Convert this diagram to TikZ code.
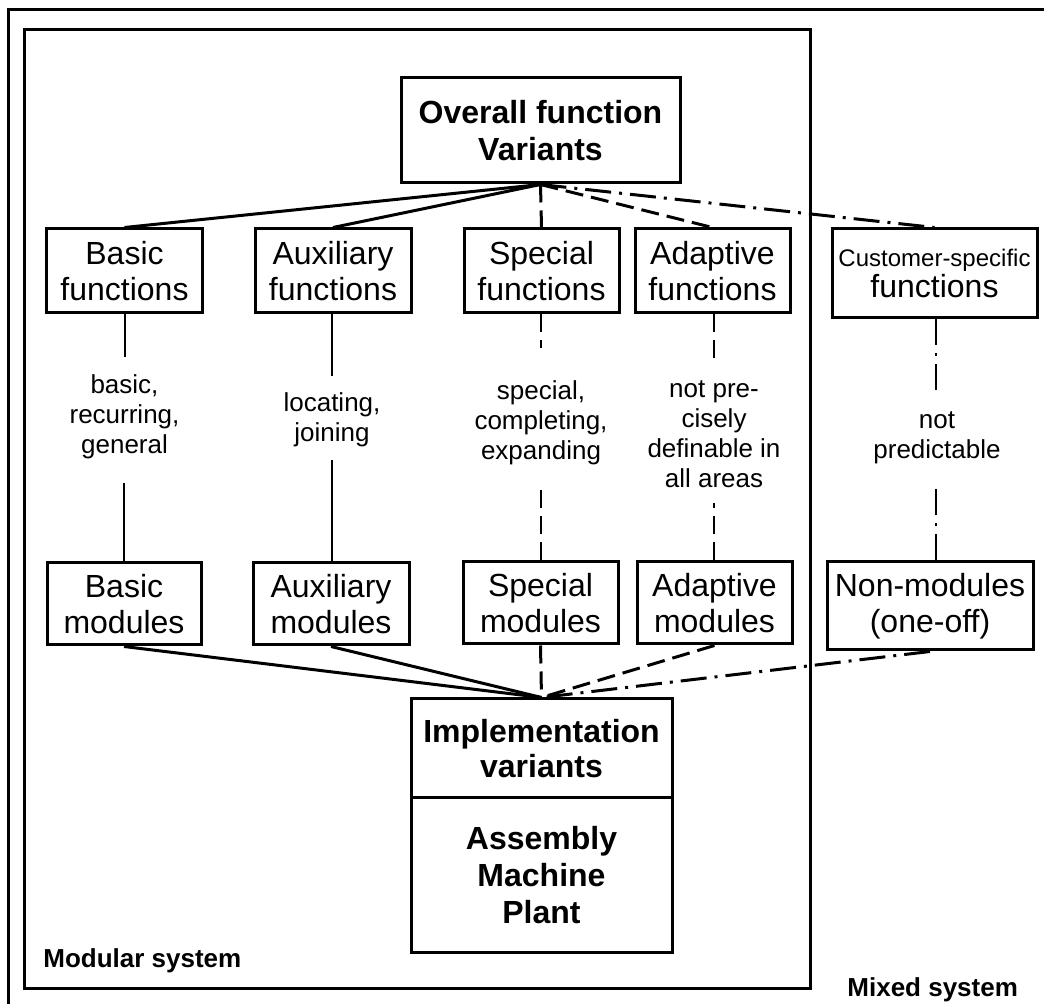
\documentclass[tikz,border=0pt]{standalone}
\usepackage{fontspec}
\setmainfont{Liberation Sans}
\begin{document}
\begin{tikzpicture}[x=0.5pt,y=-0.5pt,
  box/.style={draw,line width=1.5pt,inner sep=0pt,align=center,font=\fontsize{16}{18}\selectfont},
  bbox/.style={box,font=\fontsize{16}{18.5}\selectfont\bfseries},
  lab/.style={inner sep=0pt,align=center,font=\fontsize{13}{15}\selectfont},
  conn/.style={line width=1.5pt},
  vconn/.style={line width=1pt},
  dsh/.style={dash pattern=on 9pt off 4pt},
  dd/.style={dash pattern=on 13pt off 4pt on 1.5pt off 4pt},
  frame/.style={line width=1.5pt},
  title/.style={inner sep=0pt,anchor=base west,font=\fontsize{13}{15}\selectfont\bfseries}]
\useasboundingbox (0,0) rectangle (1044,1004);
% frames
\draw[frame] (8,1010) -- (8,10) -- (1050,10);
\draw[frame] (24,30) rectangle (810,988);
\node[title] (modular) at (43,967) {Modular system};
\node[title] (mixed) at (847,996) {Mixed system};
% top
\node[bbox,minimum width=139.5pt,minimum height=52.5pt] (ov) at (540.5,130.5) {Overall function\\Variants};
% function boxes
\node[box,minimum width=78pt,minimum height=42pt] (bf) at (124.5,271) {Basic\\functions};
\node[box,minimum width=78pt,minimum height=42pt] (af) at (333,271) {Auxiliary\\functions};
\node[box,minimum width=77.5pt,minimum height=42pt] (sf) at (541.5,271) {Special\\functions};
\node[box,minimum width=77.5pt,minimum height=42pt] (adf) at (712.5,271) {Adaptive\\functions};
\node[box,minimum width=102.5pt,minimum height=44.5pt] (cf) at (934.5,273.5) {{\fontsize{12}{14}\selectfont Customer-specific}\\[-2.5pt]functions};
% module boxes
\node[box,minimum width=77pt,minimum height=41pt] (bm) at (124,604) {Basic\\modules};
\node[box,minimum width=78pt,minimum height=41pt] (am) at (331,604) {Auxiliary\\modules};
\node[box,minimum width=77.5pt,minimum height=41pt] (sm) at (540.5,603) {Special\\modules};
\node[box,minimum width=77.5pt,minimum height=41pt] (adm) at (714.5,603) {Adaptive\\modules};
\node[box,minimum width=103pt,minimum height=44pt] (nm) at (930,606) {Non-modules\\(one-off)};
% implementation
\node[bbox,minimum width=130.5pt,minimum height=49.5pt,font=\fontsize{16}{17.5}\selectfont\bfseries] (it) at (541.5,748.5) {Implementation\\variants};
\node[bbox,minimum width=130.5pt,minimum height=77pt] (ib) at (541.5,875) {Assembly\\Machine\\Plant};
% labels
\node[lab] (l1) at (124.5,417) {basic,\\recurring,\\general};
\node[lab] (l2) at (332,420) {locating,\\joining};
\node[lab] (l3) at (541,423) {special,\\completing,\\expanding};
\node[lab] (l4) at (714,434) {not pre-\\cisely\\definable in\\all areas};
\node[lab] (l5) at (937,438) {not\\predictable};
% label gap coordinates
\coordinate (a1) at (124.5,357); \coordinate (b1) at (124,483);
\coordinate (a2) at (332,376);   \coordinate (b2) at (332,460);
\coordinate (a3) at (541,348);   \coordinate (b3) at (541,483);
\coordinate (a4) at (713.5,360); \coordinate (b4) at (713.5,503);
\coordinate (a5) at (936,392);   \coordinate (b5) at (936,483);
% top fan
\draw[conn] (ov.south) -- (bf.north);
\draw[conn] (ov.south) -- (af.north);
\draw[conn,dsh] (ov.south) -- (sf.north);
\draw[conn,dsh] (ov.south) -- (adf.north);
\draw[conn,dd] (ov.south) -- (cf.north);
% verticals
\draw[vconn] (a1 |- bf.south) -- (a1);
\draw[vconn] (b1) -- (b1 |- bm.north);
\draw[vconn] (a2 |- af.south) -- (a2);
\draw[vconn] (b2) -- (b2 |- am.north);
\draw[vconn,dsh] (a3 |- sf.south) -- (a3);
\draw[vconn,dsh] (b3 |- sm.north) -- (b3);
\draw[vconn,dsh] (a4 |- adf.south) -- (a4);
\draw[vconn,dsh] (b4 |- adm.north) -- (b4);
\draw[vconn,dd] (a5 |- cf.south) -- (a5);
\draw[vconn,dd] (b5 |- nm.north) -- (b5);
% bottom fan
\draw[conn] (bm.south) -- (it.north);
\draw[conn] (am.south) -- (it.north);
\draw[conn,dsh] (sm.south) -- (it.north);
\draw[conn,dsh] (adm.south) -- (it.north);
\draw[conn,dd] (nm.south) -- (it.north);
\end{tikzpicture}
\end{document}
